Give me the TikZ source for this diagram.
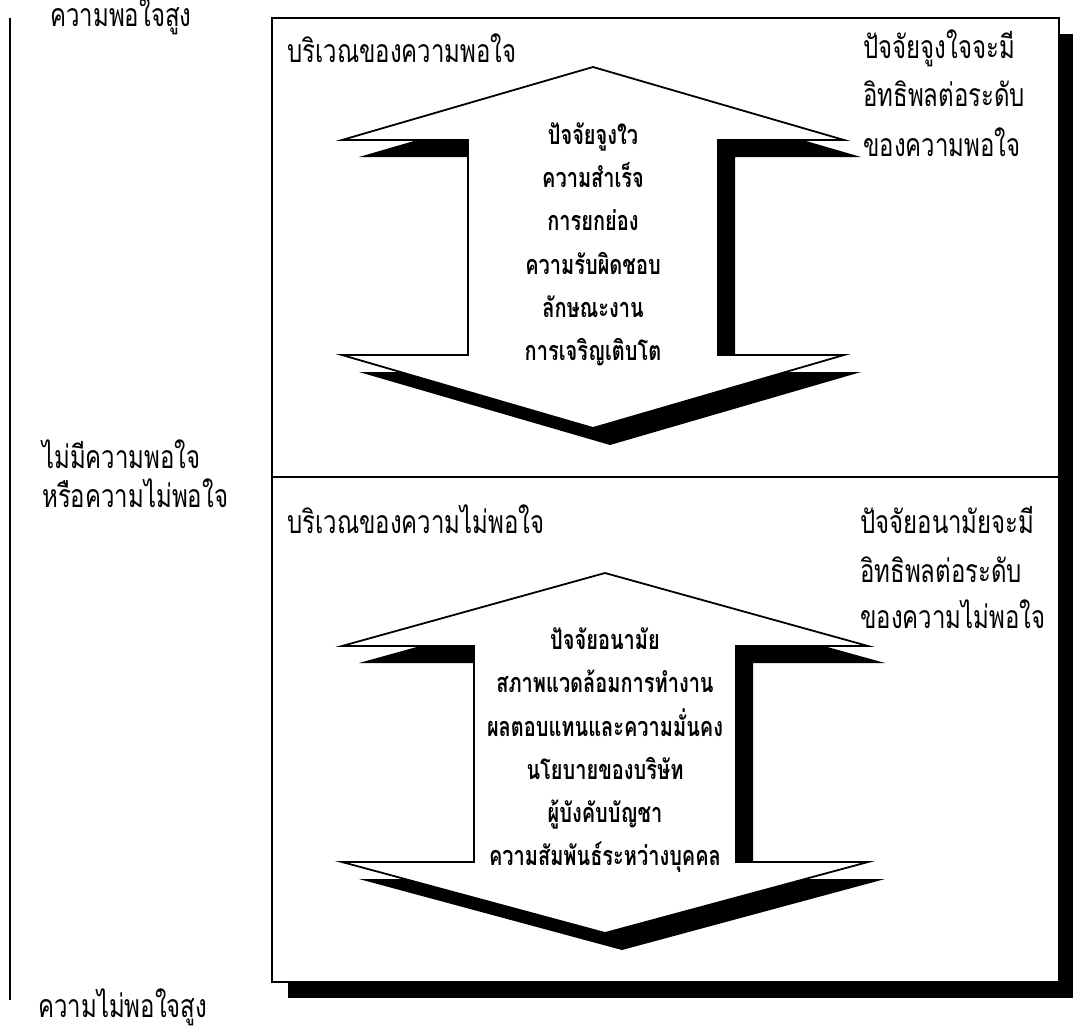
\documentclass[tikz,border=0pt]{standalone}
\usepackage{fontspec}
\newfontfamily\thai[Script=Thai,FakeStretch=0.75]{Loma}
\newfontfamily\thaiin[Script=Thai,FakeStretch=0.74]{Loma}
\newcommand\dblarr[7]{%
  \fill[black,shift={(17,17)}] (#1,#2) -- (#1-#6,#3) -- (#1-#7,#3) -- (#1-#7,#4) -- (#1-#6,#4) -- (#1,#5) -- (#1+#6,#4) -- (#1+#7,#4) -- (#1+#7,#3) -- (#1+#6,#3) -- cycle;
  \draw[arrowfill] (#1,#2) -- (#1-#6,#3) -- (#1-#7,#3) -- (#1-#7,#4) -- (#1-#6,#4) -- (#1,#5) -- (#1+#6,#4) -- (#1+#7,#4) -- (#1+#7,#3) -- (#1+#6,#3) -- cycle;
}
\begin{document}
\begin{tikzpicture}[x=1pt,y=-1pt,line join=miter,
  lbl/.style={font=\thai\fontsize{32}{32}\selectfont, inner sep=0pt, anchor=base west},
  inn/.style={font=\thaiin\bfseries\fontsize{27}{27}\selectfont, inner sep=0pt, anchor=base},
  arrowfill/.style={fill=white, draw=black, line width=1.8pt},
  frame/.style={draw=black, line width=2pt}]
\useasboundingbox (0,0) rectangle (1073,1030);
% left scale line
\coordinate (lt) at (10,18);
\coordinate (lb) at (10,1000);
\draw[line width=2.4pt] (lt) -- (lb);
% outer box with shadow
\fill[black] (288,34) rectangle (1076,998);
\draw[frame, fill=white] (272,18) rectangle (1059,982);
\coordinate (dl) at (272,477);
\coordinate (dr) at (1059,477);
\draw[frame] (dl) -- (dr);
% arrows
\dblarr{593}{67}{140}{355}{428}{251}{125}
\dblarr{605}{573}{646}{862}{933}{263}{131}
% left labels
\node[lbl] (hi) at (50,27) {ความพอใจสูง};
\node[lbl] (mid1) at (42,468) {ไม่มีความพอใจ};
\node[lbl] (mid2) at (42,507) {หรือความไม่พอใจ};
\node[lbl] (lo) at (38,1017) {ความไม่พอใจสูง};
% upper region
\node[lbl] (satz) at (287,63) {บริเวณของความพอใจ};
\node[lbl] (r1) at (863,59) {ปัจจัยจูงใจจะมี};
\node[lbl] (r2) at (863,107) {อิทธิพลต่อระดับ};
\node[lbl] (r3) at (863,156) {ของความพอใจ};
\node[inn] (u1) at (593,144) {ปัจจัยจูงใว};
\node[inn] (u2) at (593,187) {ความสำเร็จ};
\node[inn] (u3) at (593,230) {การยกย่อง};
\node[inn] (u4) at (593,274) {ความรับผิดชอบ};
\node[inn] (u5) at (593,317) {ลักษณะงาน};
\node[inn] (u6) at (593,360) {การเจริญเติบโต};
% lower region
\node[lbl] (dissz) at (287,533) {บริเวณของความไม่พอใจ};
\node[lbl] (s1) at (860,533) {ปัจจัยอนามัยจะมี};
\node[lbl] (s2) at (860,582) {อิทธิพลต่อระดับ};
\node[lbl] (s3) at (860,628) {ของความไม่พอใจ};
\node[inn] (d1) at (605,649) {ปัจจัยอนามัย};
\node[inn] (d2) at (605,692) {สภาพแวดล้อมการทำงาน};
\node[inn] (d3) at (605,736) {ผลตอบแทนและความมั่นคง};
\node[inn] (d4) at (605,779) {นโยบายของบริษัท};
\node[inn] (d5) at (605,822) {ผู้บังคับบัญชา};
\node[inn] (d6) at (605,865) {ความสัมพันธ์ระหว่างบุคคล};
\end{tikzpicture}
\end{document}
